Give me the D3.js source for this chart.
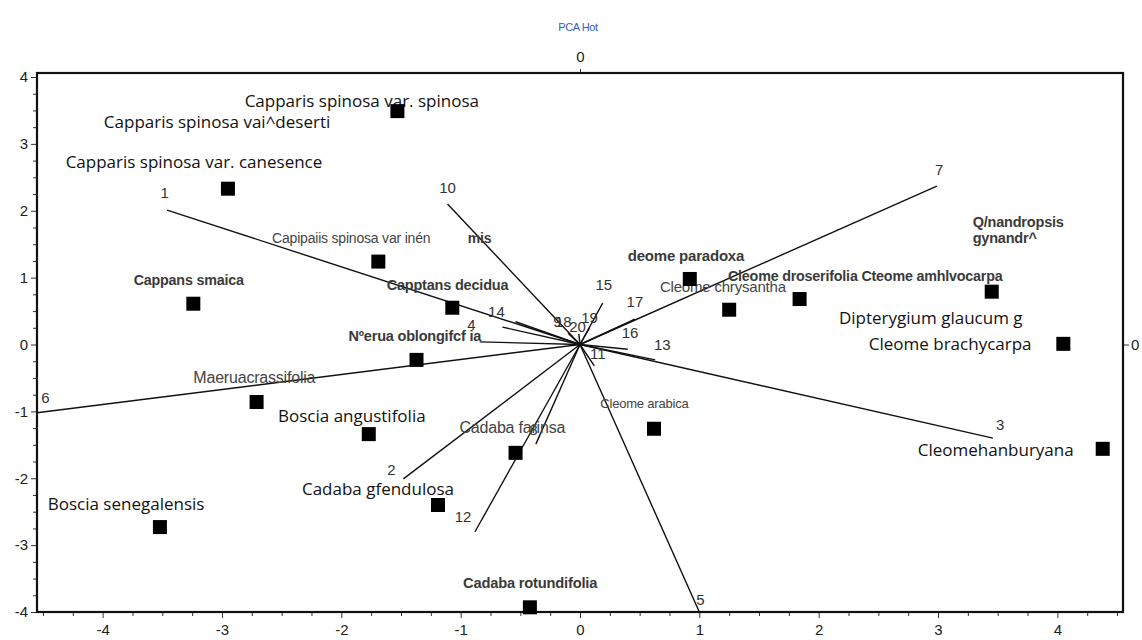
<html>
<head>
  <style>
    body { margin: 0; background: #fff; }
    svg text { font-family: "Liberation Sans", Arial, sans-serif; }
    svg .tick text { font-size: 15px; fill: #222; }
    svg .domain { stroke: none; }
    svg .tick line { stroke: #333; stroke-width: 1px; }
    .vec { stroke: #111; stroke-width: 1.4px; }
    .big { font-family: "Open Sans", "Noto Sans", sans-serif; font-size: 17px; fill: #111; }
    .grey { fill: #444; }
    .bold { font-weight: bold; fill: #3a3a3a; }
  </style>
</head>
<body>
  <div id="chart"></div>
  <script src="https://d3js.org/d3.v7.min.js"></script>
  <script>
// species scores (PC1, PC2)
var scoreNames = ["C. spinosa var. spinosa", "C. spinosa var. canescens", "C. spinosa var. inermis",
  "C. sinaica", "C. decidua", "M. oblongifolia", "M. crassifolia", "B. angustifolia",
  "C. farinosa", "C. glandulosa", "B. senegalensis", "C. rotundifolia", "C. arabica",
  "C. paradoxa", "C. chrysantha", "C. droserifolia", "C. amblyocarpa", "C. brachycarpa",
  "C. hanburyana"];
var scoreX = [-1.53, -2.95, -1.69, -3.24, -1.07, -1.37, -2.71, -1.77, -0.54, -1.19,
  -3.52, -0.42, 0.62, 0.92, 1.25, 1.84, 3.45, 4.05, 4.38];
var scoreY = [3.49, 2.33, 1.24, 0.61, 0.55, -0.23, -0.86, -1.34, -1.62, -2.40,
  -2.73, -3.93, -1.26, 0.98, 0.52, 0.68, 0.79, 0.01, -1.56];

// character loadings
var loadingIds = ["1", "2", "3", "4", "5", "6", "7", "8", "9", "10",
  "11", "12", "13", "14", "15", "16", "17", "18", "19", "20"];
var loadingX = [-3.46, -1.48, 3.46, -0.65, 1.00, -4.55, 2.99, -0.37, -0.84, -1.11,
  0.12, -0.88, 0.63, -0.54, 0.19, 0.40, 0.46, -0.10, 0.08, -0.01];
var loadingY = [2.01, -2.01, -1.40, 0.26, -4.00, -1.02, 2.37, -1.49, 0.04, 2.10,
  -0.32, -2.80, -0.23, 0.34, 0.62, -0.07, 0.38, 0.17, 0.25, 0.16];
// where each loading number is written (data units)
var loadingLabelX = [-3.48, -1.58, 3.52, -0.91, 1.01, -4.48, 3.01, -0.39, -0.19, -1.11,
  0.15, -0.98, 0.69, -0.70, 0.20, 0.42, 0.46, -0.14, 0.08, -0.02];
var loadingLabelY = [2.27, -1.88, -1.20, 0.29, -3.82, -0.80, 2.61, -1.28, 0.34, 2.34,
  -0.14, -2.58, 0.00, 0.49, 0.89, 0.17, 0.64, 0.34, 0.40, 0.26];

// species labels as printed on the figure
var labelTexts = ["Capparis spinosa var. spinosa", "Capparis spinosa vai^deserti",
  "Capparis spinosa var. canesence", "Capipaiis spinosa var inén", "mis",
  "Cappans smaica", "Capptans decidua", "Nºerua oblongifcf ia", "Maeruacrassifolia",
  "Boscia angustifolia", "Cadaba farinsa", "Cadaba gfendulosa", "Boscia senegalensis",
  "Cadaba rotundifolia", "Cleome arabica", "deome paradoxa", "Cleome chrysantha",
  "Cleome droserifolia Cteome amhlvocarpa", "Q/nandropsis", "gynandr^",
  "Dipterygium glaucum g", "Cleome brachycarpa", "Cleomehanburyana"];
var labelX = [-2.81, -3.99, -4.31, -2.58, -0.94, -3.74, -1.62, -1.94, -3.24, -2.53,
  -1.01, -2.33, -4.46, -0.98, 0.17, 0.40, 0.67, 1.24, 3.29, 3.29, 2.17, 2.42, 2.83];
var labelY = [3.55, 3.24, 2.64, 1.52, 1.52, 0.89, 0.82, 0.05, -0.57, -1.16,
  -1.32, -2.25, -2.47, -3.64, -0.95, 1.25, 0.79, 0.95, 1.76, 1.52, 0.30, -0.08, -1.67];
var labelStyle = ["big", "big", "big", "grey", "bold", "bold", "bold", "bold", "grey", "big",
  "grey", "big", "big", "bold", "grey", "bold", "grey", "bold", "bold", "bold", "big", "big", "big"];
var labelSize = [17, 17, 17, 14, 14, 14.3, 14.5, 14.5, 16, 17,
  16, 17, 17, 14.7, 13, 15, 15, 14.3, 14.5, 14.5, 17, 17, 17];

var majorX = [-4, -3, -2, -1, 0, 1, 2, 3, 4];
var majorY = [-4, -3, -2, -1, 0, 1, 2, 3, 4];

(function () {
  var W = 1142, H = 640;
  var left = 37, right = 1123, top = 73, bottom = 612;

  var svg = d3.select("#chart").append("svg")
      .attr("width", W)
      .attr("height", H);

  var xScale = d3.scaleLinear().domain([-4.55, 4.55]).range([left, right]);
  var yScale = d3.scaleLinear().domain([-4, 4.06]).range([bottom, top]);

  var noLabel = function () { return ""; };
  var plain = function (d) { return String(d); };  // keep the hyphen minus

  // minor ticks every 0.25
  var minorX = d3.range(-4.5, 4.51, 0.25).filter(function (v) { return v % 1 !== 0; });
  var minorY = d3.range(-4, 4.01, 0.25).filter(function (v) { return v % 1 !== 0; });

  svg.append("g")
      .attr("transform", "translate(0," + bottom + ")")
      .call(d3.axisBottom(xScale).tickValues(minorX).tickFormat(noLabel).tickSize(4));
  svg.append("g")
      .attr("transform", "translate(0," + bottom + ")")
      .call(d3.axisBottom(xScale).tickValues(majorX).tickSize(6).tickPadding(6).tickFormat(plain));

  svg.append("g")
      .attr("transform", "translate(" + left + ",0)")
      .call(d3.axisLeft(yScale).tickValues(minorY).tickFormat(noLabel).tickSize(4));
  svg.append("g")
      .attr("transform", "translate(" + left + ",0)")
      .call(d3.axisLeft(yScale).tickValues(majorY).tickSize(6).tickPadding(3).tickFormat(plain));

  // top and right axes only mark zero
  svg.append("g")
      .attr("transform", "translate(0," + top + ")")
      .call(d3.axisTop(xScale).tickValues([0]).tickSize(4).tickPadding(7).tickFormat(plain));
  svg.append("g")
      .attr("transform", "translate(" + right + ",0)")
      .call(d3.axisRight(yScale).tickValues([0]).tickSize(6).tickPadding(2).tickFormat(plain));

  // frame
  svg.append("rect")
      .attr("x", left)
      .attr("y", top)
      .attr("width", right - left)
      .attr("height", bottom - top)
      .style("fill", "none")
      .style("stroke", "#111")
      .style("stroke-width", "2.2px");

  svg.append("text")
      .attr("x", 578)
      .attr("y", 31)
      .text("PCA Hot")
      .style("text-anchor", "middle")
      .style("font-size", "11px")
      .style("letter-spacing", "-0.4px")
      .style("fill", "#3a5bc7");

  // loading vectors
  svg.append("g").selectAll("line")
    .data(loadingIds)
    .enter().append("line")
      .classed("vec", true)
      .attr("x1", xScale(0))
      .attr("y1", yScale(0))
      .attr("x2", function (d, i) { return xScale(loadingX[i]); })
      .attr("y2", function (d, i) { return yScale(loadingY[i]); });

  svg.append("g").selectAll("text")
    .data(loadingIds)
    .enter().append("text")
      .attr("x", function (d, i) { return xScale(loadingLabelX[i]); })
      .attr("y", function (d, i) { return yScale(loadingLabelY[i]); })
      .attr("dy", "0.35em")
      .text(function (d) { return d; })
      .style("text-anchor", "middle")
      .style("font-size", "15px")
      .style("fill", "#333");

  // species labels
  svg.append("g").selectAll("text")
    .data(labelTexts)
    .enter().append("text")
      .attr("class", function (d, i) { return labelStyle[i]; })
      .attr("x", function (d, i) { return xScale(labelX[i]); })
      .attr("y", function (d, i) { return yScale(labelY[i]); })
      .style("font-size", function (d, i) { return labelSize[i] + "px"; })
      .style("letter-spacing", function (d, i) { return labelStyle[i] === "big" ? "0px" : "-0.2px"; })
      .text(function (d) { return d; });

  // species scores
  var sq = 14;
  svg.append("g").selectAll("rect")
    .data(scoreNames)
    .enter().append("rect")
      .attr("x", function (d, i) { return xScale(scoreX[i]) - sq / 2; })
      .attr("y", function (d, i) { return yScale(scoreY[i]) - sq / 2; })
      .attr("width", sq)
      .attr("height", sq)
      .style("fill", "#000");
})();
  </script>
</body>
</html>
